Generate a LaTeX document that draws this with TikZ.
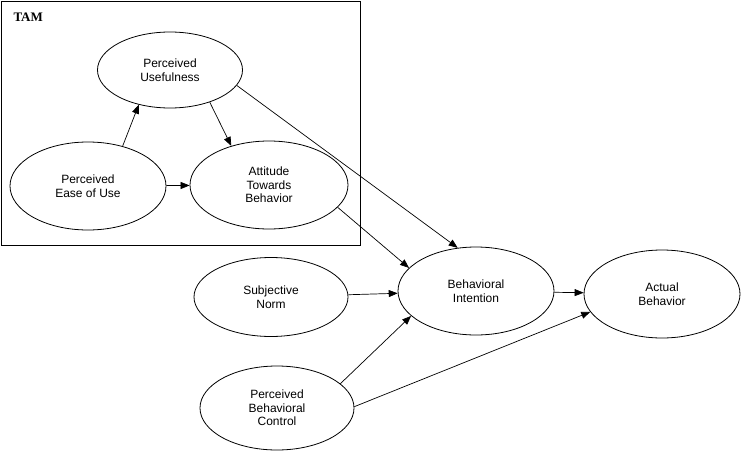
\documentclass[tikz,border=0pt]{standalone}
\usepackage{fontspec}
\setmainfont{Liberation Sans}
\newfontfamily\tamfont{Liberation Serif}
\usetikzlibrary{shapes.geometric,arrows.meta}
\begin{document}
\begin{tikzpicture}[x=1pt,y=-1pt,
  el/.style={ellipse,draw,line width=0.8pt,align=center,inner sep=0pt,font=\fontsize{12}{13.5}\selectfont},
  ar/.style={draw,line width=0.7pt,-{Triangle[length=9pt,width=7pt]}}]
\useasboundingbox (0,0) rectangle (741,452);
\draw[line width=0.7pt] (1,1) rectangle (360,245);
\node[font=\tamfont\bfseries\fontsize{13}{15}\selectfont,anchor=west] (tam) at (10,17) {TAM};
\node[el,minimum width=145,minimum height=76] (pu) at (170,70) {Perceived\\Usefulness};
\node[el,minimum width=156,minimum height=88] (peou) at (88,186) {Perceived\\Ease of Use};
\node[el,minimum width=158,minimum height=88] (atb) at (269,185) {Attitude\\Towards\\Behavior};
\node[el,minimum width=154,minimum height=79] (sn) at (271,297) {Subjective\\Norm};
\node[el,minimum width=156,minimum height=88] (bi) at (476,291) {Behavioral\\Intention};
\node[el,minimum width=156,minimum height=88] (ab) at (662,294) {Actual\\Behavior};
\node[el,minimum width=154,minimum height=84] (pbc) at (277,408) {Perceived\\Behavioral\\Control};
\draw[ar] (peou.49) -- (pu.-132);
\draw[ar] (peou) -- (atb);
\draw[ar] (pu.-39) -- (atb.134);
\draw[ar] (pu.-13) -- (bi.113);
\draw[ar] (atb.-18) -- (bi.161);
\draw[ar] (sn) -- (bi);
\draw[ar] (pbc.21) -- (bi.-159);
\draw[ar] (pbc.1) -- (ab.-166);
\draw[ar] (bi) -- (ab);
\end{tikzpicture}
\end{document}
